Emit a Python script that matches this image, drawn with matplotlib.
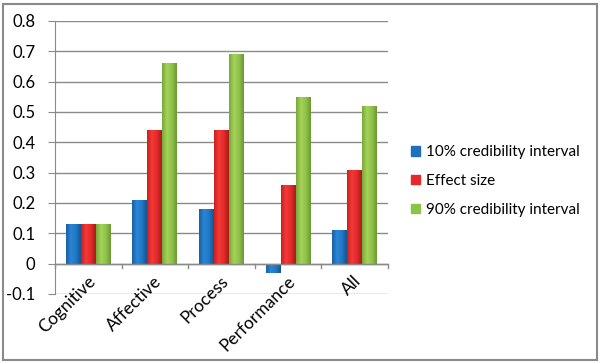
import matplotlib
matplotlib.use("Agg")
import matplotlib.pyplot as plt
import numpy as np
from matplotlib.colors import LinearSegmentedColormap
from matplotlib.patches import Rectangle

categories = ["Cognitive", "Affective", "Process", "Performance", "All"]
series_names = ["10% credibility interval", "Effect size", "90% credibility interval"]
ci10 = [0.13, 0.21, 0.18, -0.03, 0.11]
effect = [0.13, 0.44, 0.44, 0.26, 0.31]
ci90 = [0.13, 0.66, 0.69, 0.55, 0.52]
yticks = [-0.1, 0, 0.1, 0.2, 0.3, 0.4, 0.5, 0.6, 0.7, 0.8]
ytick_labels = ["-0.1", "0", "0.1", "0.2", "0.3", "0.4", "0.5", "0.6", "0.7", "0.8"]

colors = ["#1f6fbd", "#e8282a", "#8fc24a"]
grad = [
    ["#1a5fa3", "#2a86d6", "#2078c4", "#155592"],
    ["#c82020", "#f43a36", "#e42a2a", "#a81c1c"],
    ["#78a83a", "#a4d258", "#92c24c", "#6a9832"],
]

plt.rcParams['font.family'] = ['Lato', 'DejaVu Sans']

fig = plt.figure(figsize=(6.03, 3.63), dpi=100)
ax = fig.add_axes([55/603, 1-294/363, (388-55)/603, (294-21)/363])

x = np.arange(len(categories))
w = 0.225
data = [ci10, effect, ci90]
gx = np.linspace(0, 1, 64).reshape(1, -1)
for k, vals in enumerate(data):
    cmap = LinearSegmentedColormap.from_list("g%d" % k, grad[k])
    bars = ax.bar(x + (k - 1) * w, vals, width=w, color=colors[k], label=series_names[k],
                  zorder=3, linewidth=0)
    for b in bars:
        x0, y0 = b.get_x(), b.get_y()
        bw, bh = b.get_width(), b.get_height()
        im = ax.imshow(gx, cmap=cmap, aspect='auto', zorder=3.5,
                       extent=(x0, x0 + bw, min(y0, y0 + bh), max(y0, y0 + bh)))
        im.set_clip_path(b)

ax.set_xlim(-0.5, len(categories) - 0.5)
ax.set_ylim(-0.1, 0.8)
ax.set_yticks(yticks)
ax.set_yticklabels(ytick_labels, fontsize=12, color="#000000")
ax.yaxis.grid(True, color="#8a8a8a", linewidth=1.0, zorder=0)
ax.set_axisbelow(True)
for s in ["top", "right", "bottom"]:
    ax.spines[s].set_visible(False)
ax.spines["left"].set_color("#8a8a8a")
ax.tick_params(axis='y', length=5, color="#8a8a8a", pad=9, direction='out')
ax.set_xticks([])
ax.axhline(0, color="#8a8a8a", linewidth=1.0, zorder=4)
for b in np.arange(-0.5, len(categories), 1.0):
    ax.plot([b, b], [0, -0.013], color="#8a8a8a", linewidth=1.0, zorder=4, clip_on=False)

for i, c in enumerate(categories):
    ax.text(i - 0.02, -0.03, c, rotation=45, ha='right', va='top', rotation_mode='anchor',
            fontsize=12.5, color="#000000")

handles = [Rectangle((0, 0), 1, 1, color=colors[k]) for k in range(3)]
leg = fig.legend(handles, series_names, loc='center left', bbox_to_anchor=(405/603, 1-181/363),
                 frameon=False, fontsize=11, handlelength=0.55, handleheight=0.55,
                 handletextpad=0.4, labelspacing=0.95, borderaxespad=0)

fig.patches.append(Rectangle((3/603, 3/363), 594/603, 356/363, transform=fig.transFigure,
                             fill=False, edgecolor="#8a8a8a", linewidth=1.5))

fig.savefig("out.png", dpi=100)
